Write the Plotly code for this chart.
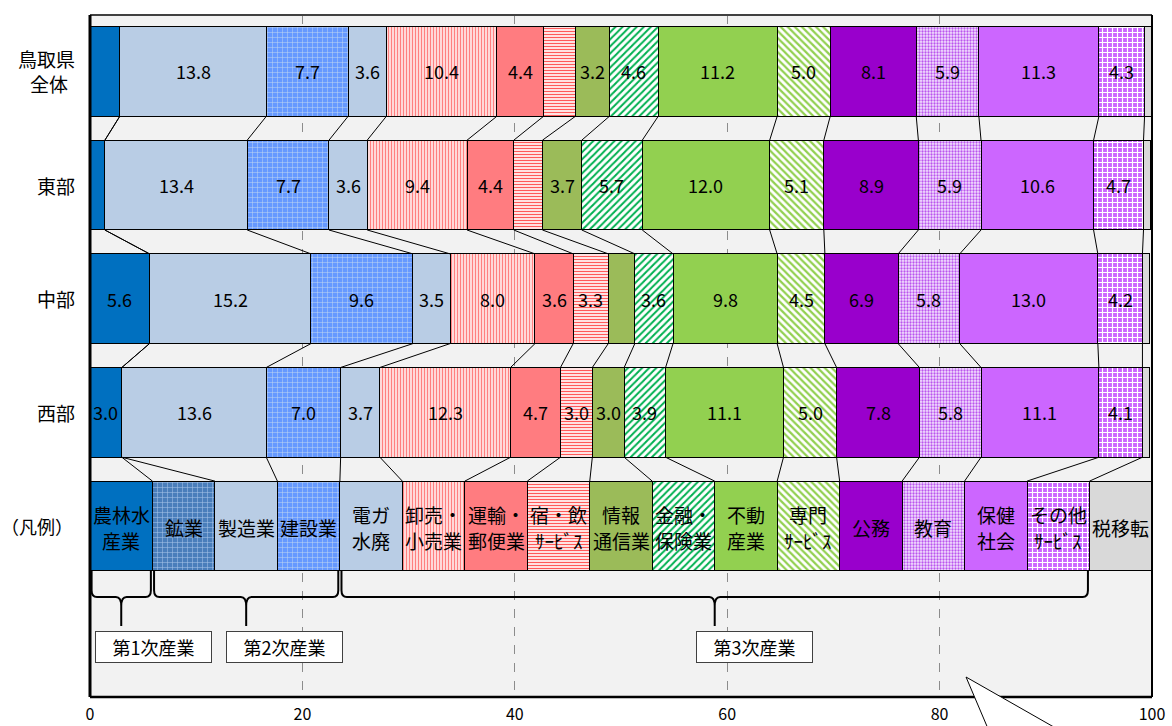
import plotly.graph_objects as go

# 経済活動別 構成比 (%)
industries = ["農林水産業", "鉱業", "製造業", "建設業", "電気・ガス・水道・廃棄物",
              "卸売・小売業", "運輸・郵便業", "宿泊・飲食サービス業", "情報通信業",
              "金融・保険業", "不動産業", "専門・科学技術、業務支援サービス業",
              "公務", "教育", "保健衛生・社会事業", "その他のサービス", "税・移転"]
legend_labels = [["農林水", "産業"], ["鉱業"], ["製造業"], ["建設業"], ["電ガ", "水廃"],
                 ["卸売・", "小売業"], ["運輸・", "郵便業"], ["宿・飲", "ｻｰﾋﾞｽ"], ["情報", "通信業"],
                 ["金融・", "保険業"], ["不動", "産業"], ["専門", "ｻｰﾋﾞｽ"], ["公務"], ["教育"],
                 ["保健", "社会"], ["その他", "ｻｰﾋﾞｽ"], ["税移転"]]

regions = [["鳥取県", "全体"], ["東部"], ["中部"], ["西部"], ["（凡例）"]]
tottori = [2.8, 0.0, 13.8, 7.7, 3.6, 10.4, 4.4, 3.0, 3.2, 4.6, 11.2, 5.0, 8.1, 5.9, 11.3, 4.3, 0.7]
tobu    = [1.4, 0.0, 13.4, 7.7, 3.6, 9.4, 4.4, 2.7, 3.7, 5.7, 12.0, 5.1, 8.9, 5.9, 10.6, 4.7, 0.7]
chubu   = [5.6, 0.0, 15.2, 9.6, 3.5, 8.0, 3.6, 3.3, 2.5, 3.6, 9.8, 4.5, 6.9, 5.8, 13.0, 4.2, 0.7]
seibu   = [3.0, 0.0, 13.6, 7.0, 3.7, 12.3, 4.7, 3.0, 3.0, 3.9, 11.1, 5.0, 7.8, 5.8, 11.1, 4.1, 0.7]
region_values = [tottori, tobu, chubu, seibu]
# 値ラベルを省略する区分 (幅が狭いもの)
hidden_labels = [{0, 1, 7, 16}, {0, 1, 7, 16}, {1, 8, 16}, {1, 16}]

sector_groups = ["第1次産業", "第2次産業", "第3次産業"]
sector_spans = [(0, 1), (1, 4), (4, 16)]          # 凡例セルの範囲 [開始, 終了)
sector_box_x = [6.0, 18.3, 62.6]

# 塗り: (地色, 模様色, 模様, サイズ, 密度)
styles = [
    ("#0070C0", None, "", 8, 0.3),
    ("#4A7EBB", "#A7C4E8", "+", 5, 0.2),
    ("#B9CDE5", None, "", 8, 0.3),
    ("#6699FF", "#C6D9F1", "+", 5, 0.18),
    ("#B9CDE5", None, "", 8, 0.3),
    ("#FFD9D9", "#FF8080", "|", 3, 0.35),
    ("#FF7C80", None, "", 8, 0.3),
    ("#FFFFFF", "#FF5A5A", "-", 3, 0.45),
    ("#9BBB59", None, "", 8, 0.3),
    ("#FFFFFF", "#00B050", "/", 5, 0.4),
    ("#92D050", None, "", 8, 0.3),
    ("#FFFFFF", "#92D050", "\\", 5, 0.45),
    ("#9900CC", None, "", 8, 0.3),
    ("#F3E2FF", "#BB55EE", ".", 3, 0.45),
    ("#CC66FF", None, "", 8, 0.3),
    ("#CC66FF", "#FFFFFF", "+", 5, 0.4),
    ("#D9D9D9", None, "", 8, 0.3),
]

n_cat = len(industries)
legend_width = 100.0 / n_cat
row_y = [0, 1, 2, 3, 4]
bar_w = 0.79
FONT = "Noto Sans CJK JP"
PLOT_W = 1062  # 描画領域の幅 (px)

fig = go.Figure()
for k, name in enumerate(industries):
    bg, fg, shape, size, sol = styles[k]
    xs = [vals[k] for vals in region_values] + [legend_width]
    marker = dict(color=bg, line=dict(color="#000000", width=1))
    if shape:
        marker["pattern"] = dict(shape=shape, fgcolor=fg, bgcolor=bg,
                                 size=size, solidity=sol, fillmode="replace")
    fig.add_trace(go.Bar(x=xs, y=row_y, orientation="h", width=bar_w, name=name,
                         marker=marker, showlegend=False, hoverinfo="skip"))

# 各行の累積位置
cums = []
for vals in region_values:
    c, acc = [], 0.0
    for v in vals:
        acc += v
        c.append(acc)
    cums.append(c)
cums.append([legend_width * (k + 1) for k in range(n_cat)])

# 行間の区切り線
lx, ly = [], []
for r in range(4):
    for k in range(n_cat - 1):
        lx += [cums[r][k], cums[r + 1][k], None]
        ly += [r + bar_w / 2, r + 1 - bar_w / 2, None]
fig.add_trace(go.Scatter(x=lx, y=ly, mode="lines", line=dict(color="#000000", width=1),
                         showlegend=False, hoverinfo="skip"))


def line_shifts(n, gap):
    # 複数行テキストの各行の縦位置 (px)
    if n == 1:
        return [0]
    return [gap / 2, -gap / 2]


annotations = []
# 値ラベル
for r, vals in enumerate(region_values):
    start = 0.0
    for k, v in enumerate(vals):
        if k not in hidden_labels[r]:
            annotations.append(dict(x=start + v / 2, y=r, xref="x", yref="y",
                                    text=f"{v:.1f}", showarrow=False,
                                    font=dict(family=FONT, size=18, color="#000000")))
        start += v
# 凡例セルの文字
for k, lines in enumerate(legend_labels):
    for txt, dy in zip(lines, line_shifts(len(lines), 26)):
        annotations.append(dict(x=legend_width * (k + 0.5), y=4, xref="x", yref="y",
                                yshift=dy - 2, text=txt, showarrow=False,
                                font=dict(family=FONT, size=19, color="#000000")))
# 行見出し (右端をそろえ、2行目は1行目の中央に置く)
for r, lines in enumerate(regions):
    long_label = len(lines[0]) >= 4
    right_px = 15 if long_label else 13
    size = 18 if long_label else 19
    annotations.append(dict(x=-right_px / PLOT_W, y=r, xref="paper", yref="y",
                            xanchor="right", yshift=line_shifts(len(lines), 25)[0],
                            text=lines[0], showarrow=False,
                            font=dict(family=FONT, size=size, color="#000000")))
    if len(lines) > 1:
        center_px = right_px + size * len(lines[0]) / 2
        annotations.append(dict(x=-center_px / PLOT_W, y=r, xref="paper", yref="y",
                                xanchor="center", yshift=line_shifts(len(lines), 25)[1],
                                text=lines[1], showarrow=False,
                                font=dict(family=FONT, size=size, color="#000000")))
# 産業区分の見出し
for name, bx in zip(sector_groups, sector_box_x):
    annotations.append(dict(x=bx, y=5.065, xref="x", yref="y", text=name,
                            showarrow=False, bgcolor="#FFFFFF", bordercolor="#404040",
                            borderwidth=1, borderpad=0, width=115, height=30,
                            font=dict(family=FONT, size=18, color="#000000")))

shapes = []
# 波括弧
y_top, y_bar, y_tip = 4 + bar_w / 2, 4.625, 4.88
for (a, b) in sector_spans:
    x0 = legend_width * a + 0.15
    x1 = legend_width * b - 0.15
    xm = (legend_width * a + legend_width * b) / 2
    c = 0.5
    path = (f"M {x0},{y_top} L {x0},{y_bar - 0.06} Q {x0},{y_bar} {x0 + c},{y_bar} "
            f"L {xm - c},{y_bar} Q {xm},{y_bar} {xm},{y_bar + 0.08} L {xm},{y_tip} "
            f"M {xm},{y_bar + 0.08} Q {xm},{y_bar} {xm + c},{y_bar} "
            f"L {x1 - c},{y_bar} Q {x1},{y_bar} {x1},{y_bar - 0.06} L {x1},{y_top}")
    shapes.append(dict(type="path", path=path, xref="x", yref="y",
                       line=dict(color="#000000", width=2)))

# 枠線
shapes += [
    dict(type="line", xref="paper", yref="paper", x0=0, x1=1, y0=1, y1=1,
         line=dict(color="#404040", width=2)),
    dict(type="line", xref="paper", yref="paper", x0=1, x1=1, y0=0, y1=1,
         line=dict(color="#000000", width=2)),
    dict(type="line", xref="paper", yref="paper", x0=0, x1=1, y0=0, y1=0,
         line=dict(color="#000000", width=2.5)),
    dict(type="line", xref="paper", yref="paper", x0=0, x1=0, y0=0, y1=1,
         line=dict(color="#000000", width=3)),
]
# 吹き出しの先端
shapes.append(dict(type="path", xref="paper", yref="paper",
                   path="M 0.8249,0.0293 L 0.8493,-0.06 L 0.9256,-0.06 Z",
                   fillcolor="#FFFFFF", line=dict(color="#000000", width=1), layer="above"))

fig.update_layout(
    width=1172, height=726,
    margin=dict(l=90, r=20, t=15, b=29),
    barmode="stack",
    plot_bgcolor="#F2F2F2", paper_bgcolor="#FFFFFF",
    font=dict(family=FONT, color="#000000"),
    annotations=annotations, shapes=shapes,
    xaxis=dict(range=[0, 100], tickvals=[0, 20, 40, 60, 80, 100], automargin=False,
               showgrid=True, gridcolor="#8C8C8C", griddash="dash", gridwidth=1,
               zeroline=False, showline=False, ticks="", ticklabelstandoff=6,
               tickfont=dict(family=FONT, size=16, color="#000000"), fixedrange=True),
    yaxis=dict(range=[5.505, -0.497], showticklabels=False, showgrid=False, automargin=False,
               zeroline=False, showline=False, fixedrange=True),
)

fig.write_html("out.html")
